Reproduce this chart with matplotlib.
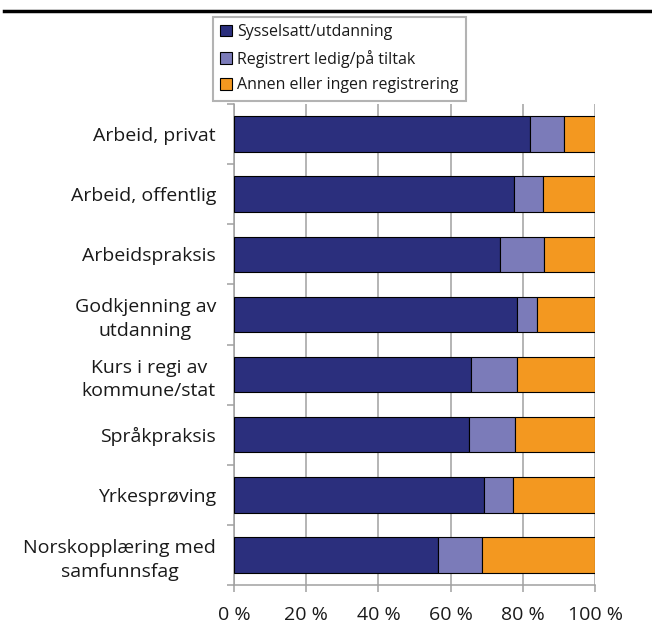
import matplotlib
matplotlib.use("Agg")
import matplotlib.pyplot as plt
import numpy as np
from matplotlib.lines import Line2D

categories = ["Arbeid, privat", "Arbeid, offentlig", "Arbeidspraksis",
              "Godkjenning av\nutdanning", "Kurs i regi av\nkommune/stat",
              "Språkpraksis", "Yrkesprøving", "Norskopplæring med\nsamfunnsfag"]
sysselsatt = [82.0, 77.5, 73.6, 78.3, 65.6, 65.0, 69.3, 56.4]
ledig = [9.4, 8.0, 12.4, 5.6, 12.9, 12.8, 7.9, 12.3]
annen = [100 - a - b for a, b in zip(sysselsatt, ledig)]
series_names = ["Sysselsatt/utdanning", "Registrert ledig/på tiltak",
                "Annen eller ingen registrering"]
xtick_values = [0, 20, 40, 60, 80, 100]
xtick_labels = ["0 %", "20 %", "40 %", "60 %", "80 %", "100 %"]

colors = ["#2B2F7D", "#7B7BB9", "#F39820"]
grid_col = "#A0A0A0"
text_col = "#1a1a1a"

plt.rcParams['font.family'] = ['Open Sans', 'DejaVu Sans']

fig = plt.figure(figsize=(6.52, 6.28), dpi=100)
ax = fig.add_axes([234/652, 43/628, 361/652, 481/628])

y = np.arange(len(categories))
left = np.zeros(len(categories))
bars = []
for vals, c, name in zip([sysselsatt, ledig, annen], colors, series_names):
    b = ax.barh(y, vals, left=left, height=0.59, color=c, edgecolor="black",
                linewidth=0.8, label=name, zorder=3)
    bars.append(b)
    left = left + np.array(vals)

ax.set_xlim(0, 100)
ax.set_ylim(len(categories) - 0.5, -0.5)
ax.set_xticks(xtick_values)
ax.set_xticklabels(xtick_labels, fontsize=14, color=text_col)
ax.set_yticks(y)
ax.set_yticklabels(categories, fontsize=14, color=text_col)
for lab in ax.get_yticklabels():
    lab.set_multialignment("center")
    lab.set_linespacing(1.4)
ax.set_yticks(np.arange(len(categories) + 1) - 0.5, minor=True)
ax.tick_params(axis="y", which="major", length=0, pad=13)
ax.tick_params(axis="y", which="minor", length=5, width=1.1, color=grid_col, direction="out")
ax.tick_params(axis="x", which="major", length=5, width=1.1, color=grid_col, pad=10)

ax.xaxis.grid(True, color=grid_col, linewidth=1.1, zorder=0)
ax.set_axisbelow(True)
for s in ["top", "right"]:
    ax.spines[s].set_visible(False)
for s in ["left", "bottom"]:
    ax.spines[s].set_color(grid_col)
    ax.spines[s].set_linewidth(1.1)

leg = fig.legend(handles=bars, labels=series_names, loc="upper left",
                 bbox_to_anchor=(213/652, 1 - 17/628), fontsize=11.5,
                 frameon=True, fancybox=False, edgecolor=grid_col,
                 handlelength=0.75, handleheight=0.75, handletextpad=0.3,
                 labelspacing=0.6, borderpad=0.45, borderaxespad=0)
leg.get_frame().set_linewidth(1.5)
for t in leg.get_texts():
    t.set_color(text_col)

fig.add_artist(Line2D([4/652, 1], [1 - 11/628, 1 - 11/628], color="black",
                      linewidth=2.5, transform=fig.transFigure))

fig.savefig("out.png", dpi=100)
